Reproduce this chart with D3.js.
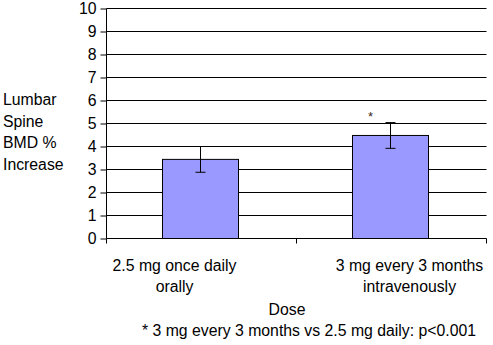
<!DOCTYPE html>
<html><head><meta charset="utf-8">
<script src="https://cdn.jsdelivr.net/npm/d3@7"></script>
<style>body{margin:0;background:#fff}svg{display:block}text{font-family:"Liberation Sans",Arial,sans-serif;fill:#000}</style>
</head><body>
<script>
const categories = ["2.5 mg once daily|orally", "3 mg every 3 months|intravenously"];
const values = [3.44, 4.48];
const errors = [0.56, 0.56];
const yTicks = [0,1,2,3,4,5,6,7,8,9,10];
const yLabel = ["Lumbar", "Spine", "BMD %", "Increase"];
const xTitle = "Dose";
const footnote = "* 3 mg every 3 months vs 2.5 mg daily: p<0.001";
const marks = ["", "*"];
const labelShift = [-27, 18];

const W = 493, H = 345;
const FS = 15.8;
const svg = d3.select("body").append("svg").attr("width", W).attr("height", H);
const x = d3.scaleBand().domain(categories).range([106.5, 486.5]).paddingInner(0).paddingOuter(0);
const y = d3.scaleLinear().domain([0, 10]).range([238.5, 8.5]);

// gridlines
svg.append("g").selectAll("line").data(yTicks.filter(d => d > 0)).join("line")
  .attr("x1", 106.5).attr("x2", 486.5).attr("y1", d => y(d)).attr("y2", d => y(d))
  .attr("stroke", "#000").attr("stroke-width", 1);

// bars
const bw = x.bandwidth() * 0.4;
const bcx = c => Math.round(x(c) + x.bandwidth() / 2 - 1.5) + 0.5;
svg.append("g").selectAll("rect").data(categories).join("rect")
  .attr("x", d => bcx(d) - Math.round(bw / 2))
  .attr("y", (d, i) => y(values[i]))
  .attr("width", Math.round(bw))
  .attr("height", (d, i) => y(0) - y(values[i]))
  .attr("fill", "#9999FF").attr("stroke", "#000").attr("stroke-width", 1);

// error bars
const eb = svg.append("g").attr("stroke", "#000").attr("stroke-width", 1);
categories.forEach((c, i) => {
  const cx = bcx(c);
  const t = y(values[i] + errors[i]), b = y(values[i] - errors[i]);
  eb.append("line").attr("x1", cx).attr("x2", cx).attr("y1", t).attr("y2", b);
  eb.append("line").attr("x1", cx - 5).attr("x2", cx + 5).attr("y1", t).attr("y2", t);
  eb.append("line").attr("x1", cx - 5).attr("x2", cx + 5).attr("y1", b).attr("y2", b);
  if (marks[i]) svg.append("text").attr("x", cx - 20).attr("y", t - 2).attr("font-size", 13)
    .attr("text-anchor", "middle").style("fill", "#3a2a20").text(marks[i]);
});

// y axis
const yAxis = d3.axisLeft(y).tickValues(yTicks).tickSize(6).tickPadding(4).tickFormat(d3.format("d"));
const ya = svg.append("g").attr("transform", "translate(106.5,0)").call(yAxis);
ya.select(".domain").attr("d", "M0,8.5V238.5");
ya.selectAll("text").attr("font-size", FS).style("font-family", '"Liberation Sans",Arial,sans-serif');

// x axis
const xa = svg.append("g").attr("transform", "translate(0,238.5)");
xa.append("line").attr("x1", 106.5).attr("x2", 486.5).attr("stroke", "#000");
const bounds = [x(categories[0]), x(categories[1]), x(categories[1]) + x.bandwidth()];
xa.selectAll(".t").data(bounds).join("line").attr("class", "t")
  .attr("x1", d => d).attr("x2", d => d).attr("y1", 0).attr("y2", 5).attr("stroke", "#000");

categories.forEach((c, i) => {
  const cx = x(c) + x.bandwidth() / 2 + labelShift[i];
  const t = svg.append("text").attr("x", cx).attr("y", 271).attr("text-anchor", "middle").attr("font-size", FS);
  c.split("|").forEach((l, j) => t.append("tspan").attr("x", cx).attr("dy", j ? 21 : 0).text(l));
});

svg.append("text").attr("x", 287).attr("y", 315).attr("text-anchor", "middle").attr("font-size", FS).text(xTitle);
svg.append("text").attr("x", 309).attr("y", 336).attr("text-anchor", "middle").attr("font-size", FS).text(footnote);

const yl = svg.append("text").attr("font-size", FS);
yLabel.forEach((l, j) => yl.append("tspan").attr("x", 3).attr("y", 105 + j * 21.5).text(l));
</script>
</body></html>
